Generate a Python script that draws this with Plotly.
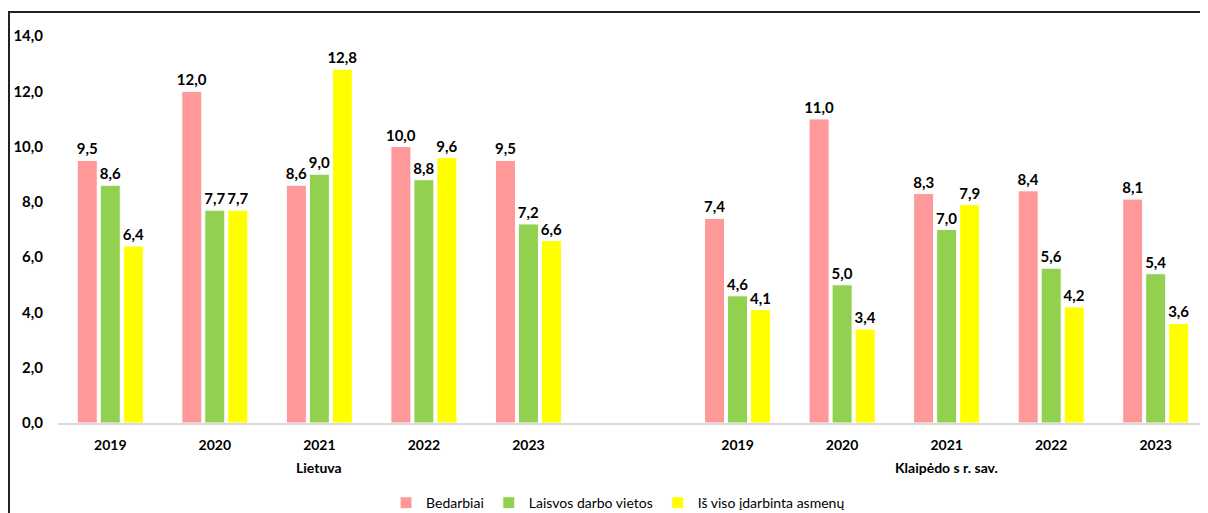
import plotly.graph_objects as go

years = ["2019", "2020", "2021", "2022", "2023"]
groups = ["Lietuva", "Klaipėdo s r. sav."]
series_names = ["Bedarbiai", "Laisvos darbo vietos", "Iš viso įdarbinta asmenų"]
bedarbiai = [9.5, 12.0, 8.6, 10.0, 9.5, 7.4, 11.0, 8.3, 8.4, 8.1]
laisvos = [8.6, 7.7, 9.0, 8.8, 7.2, 4.6, 5.0, 7.0, 5.6, 5.4]
idarbinta = [6.4, 7.7, 12.8, 9.6, 6.6, 4.1, 3.4, 7.9, 4.2, 3.6]
colors = ["#FF9999", "#92D050", "#FFFF00"]

# positions: first group 0..4, gap at 5, second group 6..10
xpos = [0, 1, 2, 3, 4, 6, 7, 8, 9, 10]
ticktext = years + years

FONT = "Lato"
fig = go.Figure()
for name, vals, col in zip(series_names, [bedarbiai, laisvos, idarbinta], colors):
    fig.add_trace(go.Bar(
        x=xpos, y=vals, name=name,
        marker=dict(color=col, line=dict(color="white", width=1)),
        texttemplate="%{y:.1f}", textposition="outside", constraintext="none",
        textfont=dict(family=FONT, size=15, color="#000000", weight="bold"),
        cliponaxis=False,
    ))

fig.update_layout(
    width=1200, height=505,
    margin=dict(l=50, r=0, t=28, b=90, autoexpand=False),
    paper_bgcolor="white", plot_bgcolor="white",
    barmode="group", bargap=0.34, bargroupgap=0.13,
    separators=",.",
    font=dict(family=FONT, color="#000000"),
    showlegend=True,
    legend=dict(orientation="h", x=0.487, xanchor="center", y=-0.207, yanchor="middle",
                font=dict(family=FONT, size=14), itemwidth=30, traceorder="normal"),
)
fig.update_xaxes(
    range=[-0.5, 10.5], tickmode="array", tickvals=xpos, ticktext=ticktext,
    showgrid=False, zeroline=False, showline=True, linecolor="#D9D9D9", linewidth=2,
    ticks="", tickfont=dict(family=FONT, size=14, weight="bold"), ticklabelstandoff=8,
    automargin=False,
)
fig.update_yaxes(
    range=[0, 14], tickmode="linear", tick0=0, dtick=2, tickformat=".1f",
    showgrid=False, zeroline=False, showline=False, ticks="",
    tickfont=dict(family=FONT, size=15, weight="bold"), ticklabelstandoff=14,
    automargin=False,
)
for gx, g in zip([2, 8], groups):
    fig.add_annotation(x=gx, xref="x", y=-0.114, yref="paper", text=g, showarrow=False,
                       font=dict(family=FONT, size=14, weight="bold"), yanchor="middle")

fig.add_shape(type="rect", xref="paper", yref="paper",
              x0=(9 - 58) / 1150, x1=1.01, y0=-0.3, y1=(423 - 12) / 387,
              line=dict(color="#222222", width=2), fillcolor="rgba(0,0,0,0)", layer="above")

fig.write_html("out.html")
